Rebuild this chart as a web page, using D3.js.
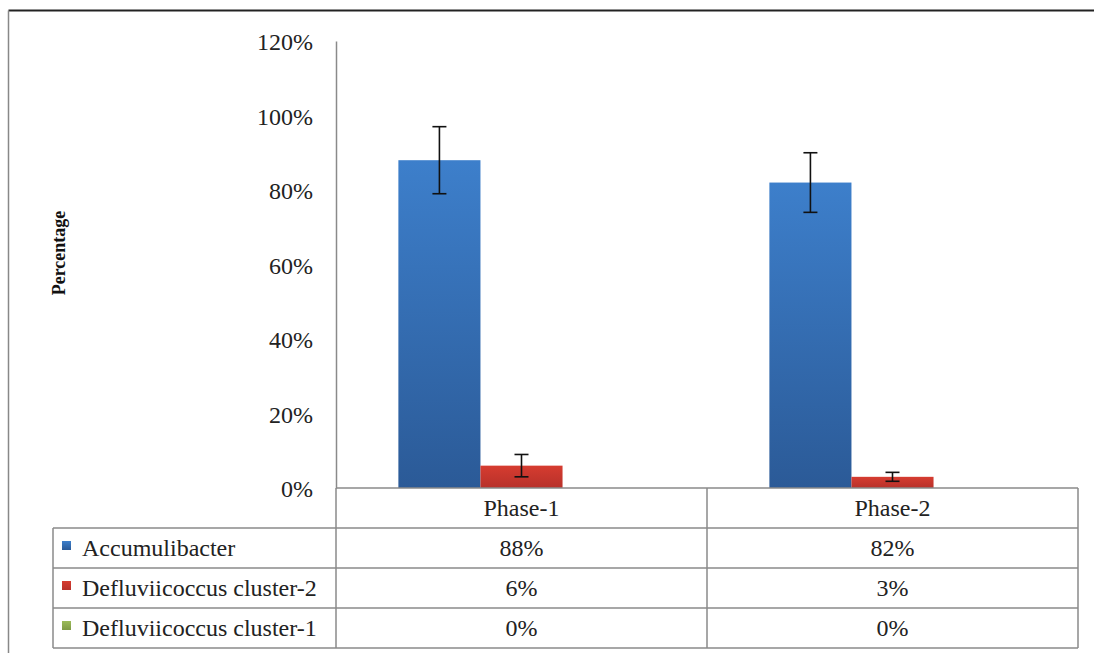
<!DOCTYPE html>
<html>
<head>
<meta charset="utf-8">
<script src="https://cdn.jsdelivr.net/npm/d3@7/dist/d3.min.js"></script>
<style>
  html, body { margin: 0; padding: 0; background: #fff; }
  svg { display: block; }
</style>
</head>
<body>
<svg id="chart" width="1094" height="653"></svg>
<script>
// ---- data ----
const categories = ["Phase-1", "Phase-2"];
const seriesNames = ["Accumulibacter", "Defluviicoccus cluster-2", "Defluviicoccus cluster-1"];
const accumulibacter = [0.88, 0.82];
const defluvii2 = [0.06, 0.03];
const defluvii1 = [0.00, 0.00];
const errAccumulibacter = [0.09, 0.08];
const errDefluvii2 = [0.03, 0.012];
const errDefluvii1 = [0, 0];
const yTicks = [0, 0.2, 0.4, 0.6, 0.8, 1.0, 1.2];
const seriesColors = [
  ["#3d7fcb", "#2b5a97"],
  ["#d63c30", "#b7312a"],
  ["#9bbb59", "#7f9a46"]
];

(function () {
const FONT = '"Liberation Serif", "Times New Roman", Tinos, serif';
const FS = "24px";
const seriesValues = [accumulibacter, defluvii2, defluvii1];
const seriesErrors = [errAccumulibacter, errDefluvii2, errDefluvii1];

const svg = d3.select("#chart").style("font-family", FONT);

// outer frame
svg.append("line").attr("x1", 8.5).attr("x2", 1094).attr("y1", 10.5).attr("y2", 10.5)
  .attr("stroke", "#222").attr("stroke-width", 2);
svg.append("line").attr("x1", 8.5).attr("x2", 8.5).attr("y1", 10.5).attr("y2", 653)
  .attr("stroke", "#888").attr("stroke-width", 1.5);

// scales
const pLeft = 336, pRight = 1078, pTop = 41, pBase = 488;
const y = d3.scaleLinear().domain([0, 1.2]).range([pBase, pTop]);
const x = d3.scaleBand().domain(categories).range([pLeft, pRight]).padding(0);
const xs = d3.scaleBand().domain(d3.range(seriesNames.length)).range([0, x.bandwidth()])
  .paddingInner(0).paddingOuter(0.76);

// gradients
const defs = svg.append("defs");
seriesColors.forEach((c, i) => {
  const g = defs.append("linearGradient").attr("id", "grad" + i)
    .attr("x1", 0).attr("x2", 0).attr("y1", 0).attr("y2", 1);
  g.append("stop").attr("offset", "0%").attr("stop-color", c[0]);
  g.append("stop").attr("offset", "100%").attr("stop-color", c[1]);
});

// y axis
const yAxis = d3.axisLeft(y).tickValues(yTicks).tickFormat(d3.format(".0%")).tickSize(0).tickPadding(23);
const ga = svg.append("g").attr("transform", `translate(${pLeft},0)`).call(yAxis);
ga.attr("font-family", null).attr("font-size", null);
ga.select(".domain").attr("stroke", "#8a8a8a").attr("stroke-width", 1.5);
ga.selectAll("text").style("font-family", FONT).style("font-size", FS)
  .attr("fill", "#222").attr("dy", "0.36em");

// y axis title
svg.append("text").attr("transform", "translate(65,253) rotate(-90)")
  .attr("text-anchor", "middle").style("font-family", FONT).style("font-size", "18px").style("font-weight", "bold")
  .attr("fill", "#111").text("Percentage");

// bars
const barData = [];
seriesValues.forEach((vals, si) => vals.forEach((v, ci) => barData.push({si, ci, v, e: seriesErrors[si][ci]})));

svg.append("g").selectAll("rect").data(barData.filter(d => d.v > 0)).join("rect")
  .attr("x", d => x(categories[d.ci]) + xs(d.si))
  .attr("width", xs.bandwidth())
  .attr("y", d => y(d.v))
  .attr("height", d => y(0) - y(d.v))
  .attr("fill", d => `url(#grad${d.si})`);

// error bars
const eb = svg.append("g").attr("stroke", "#111").attr("stroke-width", 1.6);
barData.filter(d => d.e > 0).forEach(d => {
  const cx = x(categories[d.ci]) + xs(d.si) + xs.bandwidth() / 2;
  const cap = 7;
  eb.append("line").attr("x1", cx).attr("x2", cx).attr("y1", y(d.v + d.e)).attr("y2", y(d.v - d.e));
  eb.append("line").attr("x1", cx - cap).attr("x2", cx + cap).attr("y1", y(d.v + d.e)).attr("y2", y(d.v + d.e));
  eb.append("line").attr("x1", cx - cap).attr("x2", cx + cap).attr("y1", y(d.v - d.e)).attr("y2", y(d.v - d.e));
});

// data table
const tableLeft = 53;
const rowH = 40;
const headerTop = pBase, headerBottom = pBase + rowH;
const grid = svg.append("g").attr("stroke", "#8a8a8a").attr("stroke-width", 1.5).attr("fill", "none");
grid.append("line").attr("x1", pLeft).attr("x2", pRight).attr("y1", headerTop).attr("y2", headerTop);
for (let r = 0; r <= seriesNames.length; r++) {
  const yy = headerBottom + r * rowH;
  grid.append("line").attr("x1", tableLeft).attr("x2", pRight).attr("y1", yy).attr("y2", yy);
}
const tableBottom = headerBottom + seriesNames.length * rowH;
grid.append("line").attr("x1", tableLeft).attr("x2", tableLeft).attr("y1", headerBottom).attr("y2", tableBottom);
[pLeft, ...categories.map(c => x(c) + x.bandwidth())].forEach(xx => {
  grid.append("line").attr("x1", xx).attr("x2", xx).attr("y1", headerTop).attr("y2", tableBottom);
});

// header text
svg.append("g").selectAll("text").data(categories).join("text")
  .attr("x", c => x(c) + x.bandwidth() / 2)
  .attr("y", headerTop + rowH / 2)
  .attr("dy", "0.35em").attr("text-anchor", "middle")
  .style("font-family", FONT).style("font-size", FS).attr("fill", "#222")
  .text(c => c);

// rows
seriesNames.forEach((name, si) => {
  const cy = headerBottom + si * rowH + rowH / 2;
  svg.append("rect").attr("x", 62).attr("y", cy - 7).attr("width", 9).attr("height", 9)
    .attr("fill", `url(#grad${si})`);
  svg.append("text").attr("x", 82).attr("y", cy).attr("dy", "0.35em")
    .style("font-family", FONT).style("font-size", FS).attr("fill", "#222").text(name);
  categories.forEach((c, ci) => {
    svg.append("text").attr("x", x(c) + x.bandwidth() / 2).attr("y", cy).attr("dy", "0.35em")
      .attr("text-anchor", "middle").style("font-family", FONT).style("font-size", FS).attr("fill", "#222")
      .text(d3.format(".0%")(seriesValues[si][ci]));
  });
});
})();
</script>
</body>
</html>
